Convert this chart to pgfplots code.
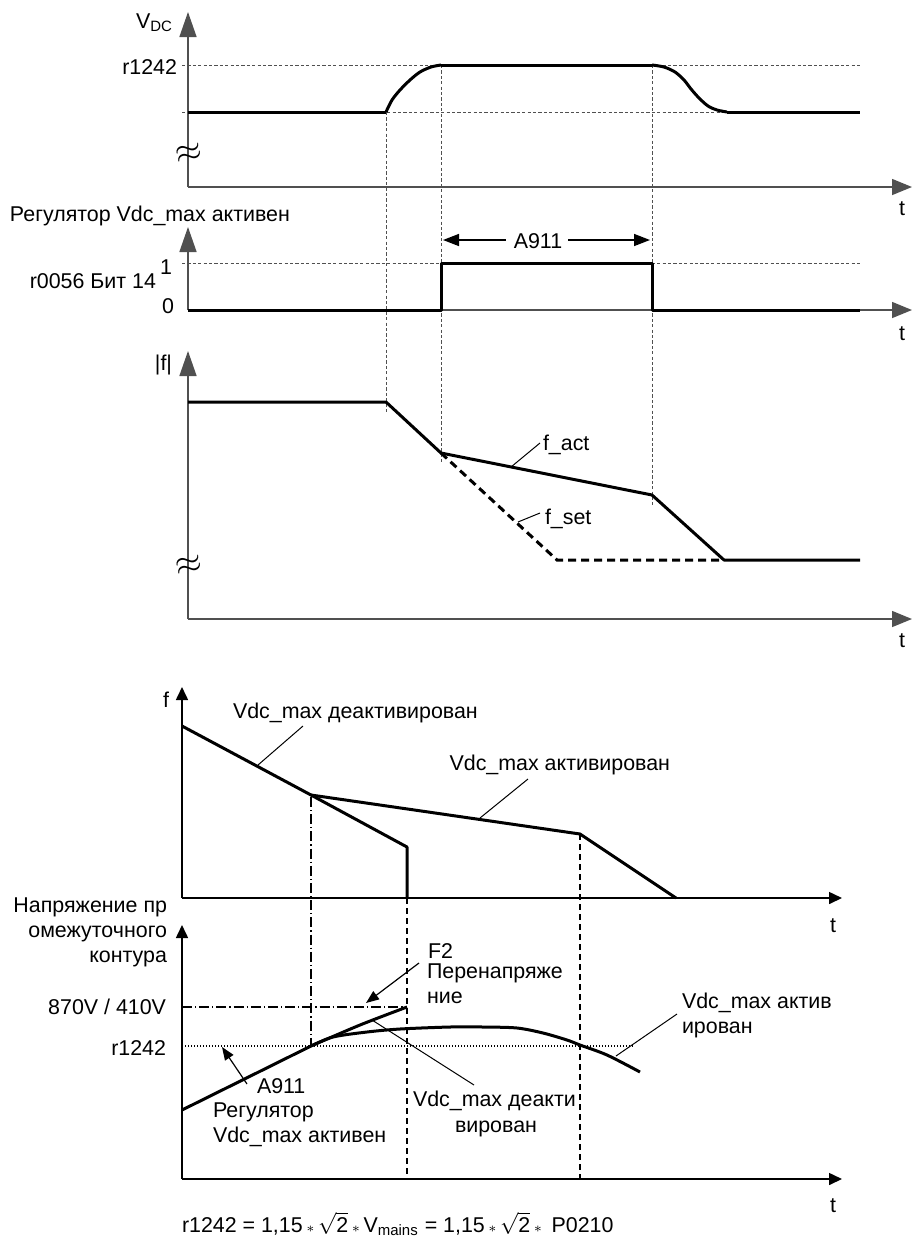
\documentclass[border=0pt]{standalone}
\usepackage{fontspec}
\setmainfont{Liberation Sans}
\usepackage{pgfplots}
\pgfplotsset{compat=1.18}
\usetikzlibrary{arrows.meta}
\definecolor{axgray}{HTML}{505050}
\definecolor{dgray}{HTML}{505050}
\tikzset{lb/.style={inner sep=0pt, outer sep=0pt, font=\fontsize{10.7}{13}\selectfont}}
\newcommand{\st}{\,\raisebox{-0.4pt}{$\scriptstyle\ast$}\,}
\begin{document}
\fontsize{10.7}{13}\selectfont
\begin{tikzpicture}
\begin{axis}[scale only axis, width=456pt, height=619pt,
  xmin=0, xmax=912, ymin=0, ymax=1238, y dir=reverse,
  hide axis, clip=false,
  bigy/.style={-{Triangle[length=12.5pt,width=8.5pt]}},
  bigx/.style={-{Triangle[length=10pt,width=8pt]}},
  smallarr/.style={-{Triangle[length=6.5pt,width=6pt]}},
  axg/.style={axgray, line width=0.75pt},
  axb/.style={black, line width=0.8pt},
  thickl/.style={black, line width=1.5pt, line join=round},
  gdash/.style={dgray, line width=0.5pt, dash pattern=on 1.6pt off 1.1pt},
  thin/.style={black, line width=0.5pt},
]
% invisible frame
\addplot[draw=none] coordinates {(0,0) (912,1238)};

%================ Panel 1: V_DC =================
\addplot[gdash] coordinates {(182,65) (860,65)};
\addplot[gdash] coordinates {(182,112) (727,112)};
\addplot[gdash] coordinates {(386,112) (386,412)};
\addplot[gdash] coordinates {(441,65) (441,462)};
\addplot[gdash] coordinates {(652,65) (652,505)};
\addplot[axg, bigy] coordinates {(188,187) (188,12)};
\addplot[axg, bigx] coordinates {(188,187) (912,187)};
\addplot[thickl] coordinates {(188,112) (386,112)};
\addplot[thickl, smooth] coordinates {(386,112) (392,100) (400,90) (410,80) (420,72) (431,67) (441,65)};
\addplot[thickl] coordinates {(441,65) (652,65)};
\addplot[thickl, smooth] coordinates {(652,65) (664,67) (675,72) (684,80) (691,89) (699,98) (708,106) (717,110) (727,112)};
\addplot[thickl] coordinates {(727,112) (860,112)};
\node[lb, anchor=base west] at (axis cs:136,28) {V\textsubscript{DC}};
\node[lb, anchor=base east] at (axis cs:177,74) {r1242};
\node[lb, anchor=base] at (axis cs:902,215) {t};
\node[rotate=12] at (axis cs:189,154) {\LARGE$\approx$};

%================ Panel 2: bit =================
\addplot[gdash] coordinates {(182,263) (860,263)};
\addplot[axg, bigy] coordinates {(188,310) (188,227)};
\addplot[axg, bigx] coordinates {(188,310) (912,310)};
\addplot[thickl] coordinates {(188,310) (441,310) (441,263) (652,263) (652,310) (860,310)};
\addplot[black, line width=0.75pt, {Triangle[length=8pt,width=6pt]}-] coordinates {(443,240) (506,240)};
\addplot[black, line width=0.75pt, -{Triangle[length=8pt,width=6pt]}] coordinates {(568,240) (650,240)};
\node[lb, anchor=base] at (axis cs:538,248) {A911};
\node[lb, anchor=base west] at (axis cs:10,221) {Регулятор Vdc\_max активен};
\node[lb, anchor=base east] at (axis cs:172,274) {1};
\node[lb, anchor=base east] at (axis cs:156,288) {r0056 Бит 14};
\node[lb, anchor=base east] at (axis cs:174,313) {0};
\node[lb, anchor=base] at (axis cs:902,340) {t};

%================ Panel 3: |f| =================
\addplot[axg, bigy] coordinates {(188,619) (188,351)};
\addplot[axg, bigx] coordinates {(188,619) (912,619)};
\addplot[thickl] coordinates {(188,402) (386,402) (441,453) (652,495) (724,560) (860,560)};
\addplot[black, line width=1.5pt, dash pattern=on 4pt off 2.5pt] coordinates {(441,453) (557,560) (724,560)};
\addplot[thin] coordinates {(511,467) (540,443)};
\addplot[thin] coordinates {(518,522) (540,513)};
\node[lb, anchor=base west] at (axis cs:543,450) {f\_act};
\node[lb, anchor=base west] at (axis cs:545,524) {f\_set};
\node[lb, anchor=base east] at (axis cs:172,370) {|f|};
\node[lb, anchor=base] at (axis cs:902,647) {t};
\node[rotate=12] at (axis cs:189,566) {\LARGE$\approx$};

%================ Panel 4: f (bottom) =================
\addplot[black, line width=0.6pt, dash pattern=on 5pt off 1.5pt on 0.6pt off 1.5pt] coordinates {(311,797) (311,1046)};
\addplot[black, line width=0.8pt, dash pattern=on 3pt off 2pt] coordinates {(407,898) (407,1179)};
\addplot[black, line width=0.8pt, dash pattern=on 3pt off 2pt] coordinates {(580,834) (580,1179)};
\addplot[axb, smallarr] coordinates {(182,898) (182,687)};
\addplot[axb, smallarr] coordinates {(182,898) (842,898)};
\addplot[thickl] coordinates {(182,726) (311,795) (407,847) (407,898)};
\addplot[thickl] coordinates {(311,795) (580,834) (676,898)};
\addplot[thin] coordinates {(258,765) (303,726)};
\addplot[thin] coordinates {(480,818) (528,779)};
\node[lb, anchor=base east] at (axis cs:169,707) {f};
\node[lb, anchor=base west] at (axis cs:233,718) {Vdc\_max деактивирован};
\node[lb, anchor=base east] at (axis cs:670,770) {Vdc\_max активирован};
\node[lb, anchor=base] at (axis cs:833,932) {t};

%================ Panel 5: voltage (bottom) =================
\addplot[black, line width=0.6pt, dash pattern=on 5pt off 1.5pt on 0.6pt off 1.5pt] coordinates {(182,1007) (407,1007)};
\addplot[black, line width=0.6pt, dash pattern=on 0.5pt off 1pt] coordinates {(182,1046) (633,1046)};
\addplot[axb, smallarr] coordinates {(182,1179) (182,925)};
\addplot[axb, smallarr] coordinates {(182,1179) (842,1179)};
\addplot[thickl] coordinates {(182,1110) (311,1046)};
\addplot[thickl, smooth] coordinates {(311,1046) (360,1025) (407,1007)};
\addplot[thickl, smooth] coordinates {(311,1046) (333,1037) (367,1032) (400,1029) (450,1027) (483,1027) (517,1028) (543,1033) (567,1040) (580,1045) (607,1055) (640,1072)};
\addplot[black, line width=0.6pt, -{Triangle[length=6.5pt,width=5pt]}] coordinates {(419,963) (366,1003)};
\addplot[black, line width=0.6pt, -{Triangle[length=6.5pt,width=5pt]}] coordinates {(247,1084) (222,1047)};
\addplot[thin] coordinates {(372,1020) (474,1085)};
\addplot[thin] coordinates {(616,1056) (677,1014)};
\node[lb, anchor=base east] at (axis cs:167,912) {Напряжение пр};
\node[lb, anchor=base east] at (axis cs:167,937) {омежуточного};
\node[lb, anchor=base east] at (axis cs:167,962) {контура};
\node[lb, anchor=base east] at (axis cs:166,1014) {870V / 410V};
\node[lb, anchor=base east] at (axis cs:166,1055) {r1242};
\node[lb, anchor=base west] at (axis cs:428,958) {F2};
\node[lb, anchor=base west] at (axis cs:427,978) {Перенапряже};
\node[lb, anchor=base west] at (axis cs:427,1003) {ние};
\node[lb, anchor=base west] at (axis cs:413,1106) {Vdc\_max деакти};
\node[lb, anchor=base west] at (axis cs:455,1132) {вирован};
\node[lb, anchor=base west] at (axis cs:257,1093) {A911};
\node[lb, anchor=base west] at (axis cs:213,1117) {Регулятор};
\node[lb, anchor=base west] at (axis cs:213,1142) {Vdc\_max активен};
\node[lb, anchor=base west] at (axis cs:682,1008) {Vdc\_max актив};
\node[lb, anchor=base west] at (axis cs:682,1033) {ирован};
\node[lb, anchor=base] at (axis cs:833,1212) {t};
\node[lb, anchor=base west] at (axis cs:182,1232) {r1242 = 1,15\st$\sqrt{\mbox{2}}$\st V\textsubscript{mains} = 1,15\st$\sqrt{\mbox{2}}$\st\ P0210};
\end{axis}
\end{tikzpicture}
\end{document}
